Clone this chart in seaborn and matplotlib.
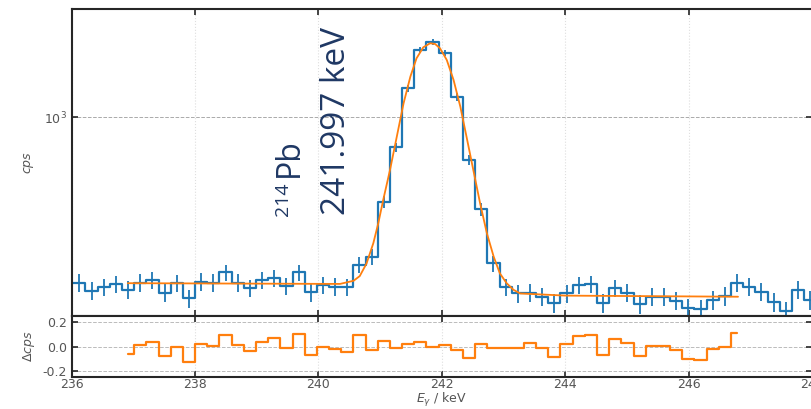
import numpy as np
import pandas as pd
import matplotlib
matplotlib.use("Agg")
import matplotlib.pyplot as plt
import seaborn as sns
from matplotlib.ticker import NullLocator, FixedLocator, FormatStrFormatter

# histogram bins (regular channel grid, ~0.197 keV wide)
bin_start = 235.928
bin_width = 0.1974
n_bins = 62

cps = [231, 231, 215, 222, 228, 217, 231, 237, 211, 230, 201,
       233, 231, 253, 231, 220, 236, 241, 224, 253, 212,
       226, 223, 222, 270, 291, 471, 767, 1293, 1815, 1943,
       1763, 1200, 685, 443, 274, 222, 210, 211, 204, 193,
       210, 226, 228, 193, 220, 211, 191, 204, 204, 197,
       184, 183, 198, 205, 231, 223, 213, 195, 179, 217, 198]
live_time = 0.75

# fitted peak model
fit_e = [236.91, 240.35, 240.57, 240.67, 240.78, 240.89, 240.97, 241.05,
         241.16, 241.27, 241.38, 241.49, 241.59, 241.70, 241.81, 241.89,
         241.97, 242.08, 242.19, 242.30, 242.40, 242.51, 242.62, 242.73,
         242.84, 242.94, 243.05, 243.16, 243.27, 244.01, 246.80]
fit_v = [230, 228.5, 235, 245, 274, 328, 391, 481,
         627, 842, 1132, 1433, 1686, 1859, 1926, 1914,
         1843, 1661, 1392, 1098, 842, 627, 467, 358,
         291, 251, 230, 217, 210, 206, 204]

# residuals for the fitted bins
resid = [-0.061, 0.011, 0.04, -0.08, -0.003, -0.128, 0.019, 0.005, 0.09,
         0.016, -0.035, 0.037, 0.067, -0.013, 0.099, -0.069, 0.0, -0.021,
         -0.043, 0.09, -0.027, 0.045, -0.008, 0.019, 0.037, 0.0,
         0.011, -0.029, -0.096, 0.024, -0.013, -0.013, -0.013, 0.032,
         -0.008, -0.083, 0.021, 0.085, 0.093, -0.069, 0.064, 0.032,
         -0.075, 0.005, 0.005, -0.029, -0.101, -0.107, -0.021, -0.003, 0.107]
fit_first_bin = 5

x_ticks = [236, 238, 240, 242, 244, 246, 248]

blue = "#1f77b4"
orange = "#ff7f0e"
label_col = "#555555"
text_col = "#1f3864"

sns.set_style("ticks")
plt.rcParams.update({
    "font.family": ["DejaVu Sans"],
    "xtick.direction": "in", "ytick.direction": "in",
    "xtick.top": True, "ytick.right": True,
    "xtick.major.size": 4, "ytick.major.size": 4,
    "xtick.major.width": 1.2, "ytick.major.width": 1.2,
    "xtick.labelsize": 9, "ytick.labelsize": 9,
    "xtick.labelcolor": label_col, "ytick.labelcolor": label_col,
    "axes.linewidth": 1.5,
})

energy = np.round(bin_start + bin_width * np.arange(n_bins), 4)
cps = np.array(cps, dtype=float)
err = np.sqrt(cps * live_time) / live_time
df = pd.DataFrame({"E": energy, "cps": cps, "err": err})
res_df = pd.DataFrame({"E": energy[fit_first_bin:fit_first_bin + len(resid)], "r": resid})

fig = plt.figure(figsize=(8.11, 4.09), dpi=100)
ax = fig.add_axes([0.0883, 0.2274, 0.913, 0.7506])
ax_r = fig.add_axes([0.0883, 0.0782, 0.913, 0.1492], sharex=ax)

ax.set_yscale("log")
sns.lineplot(data=df, x="E", y="cps", drawstyle="steps-mid", color=blue, lw=1.6, ax=ax)
ax.errorbar(df["E"], df["cps"], yerr=df["err"], fmt="none", ecolor=blue, elinewidth=1.3, capsize=0)
sns.lineplot(x=fit_e, y=fit_v, color=orange, lw=1.3, ax=ax, sort=False)

ax.set_xlim(236, 248)
ax.set_ylim(172, 2609)
ax.yaxis.set_minor_locator(NullLocator())
ax.xaxis.set_major_locator(FixedLocator(x_ticks))
ax.tick_params(labelbottom=False)
ax.grid(True, axis="x", ls=":", lw=0.8, color="#dedede")
ax.grid(True, axis="y", ls="--", lw=0.7, color="#aaaaaa")
ax.set_xlabel("")
ax.set_ylabel("$cps$", color=label_col, fontsize=9, labelpad=6)

ax.text(240.30, 421, "241.997 keV", rotation=90, ha="center", va="bottom",
        fontsize=24, color=text_col, family="Open Sans")
ax.text(239.53, 590, "Pb", rotation=90, ha="center", va="bottom",
        fontsize=23, color=text_col, family="Open Sans")
ax.text(239.42, 417, "214", rotation=90, ha="center", va="bottom",
        fontsize=14, color=text_col, family="Open Sans")

sns.lineplot(data=res_df, x="E", y="r", drawstyle="steps-mid", color=orange, lw=1.6, ax=ax_r)
ax_r.set_ylim(-0.245, 0.245)
ax_r.yaxis.set_major_locator(FixedLocator([-0.2, 0.0, 0.2]))
ax_r.yaxis.set_major_formatter(FormatStrFormatter("%.1f"))
ax_r.grid(True, axis="x", ls=":", lw=0.8, color="#dedede")
ax_r.grid(True, axis="y", ls="--", lw=0.7, color="#bbbbbb")
ax_r.set_ylabel(r"$\Delta cps$", color=label_col, fontsize=9)
ax_r.set_xlabel(r"$E_{\gamma}$ / keV", color=label_col, fontsize=9, labelpad=0)
ax_r.tick_params(axis="x", pad=1)

fig.savefig("out.png", dpi=100)
